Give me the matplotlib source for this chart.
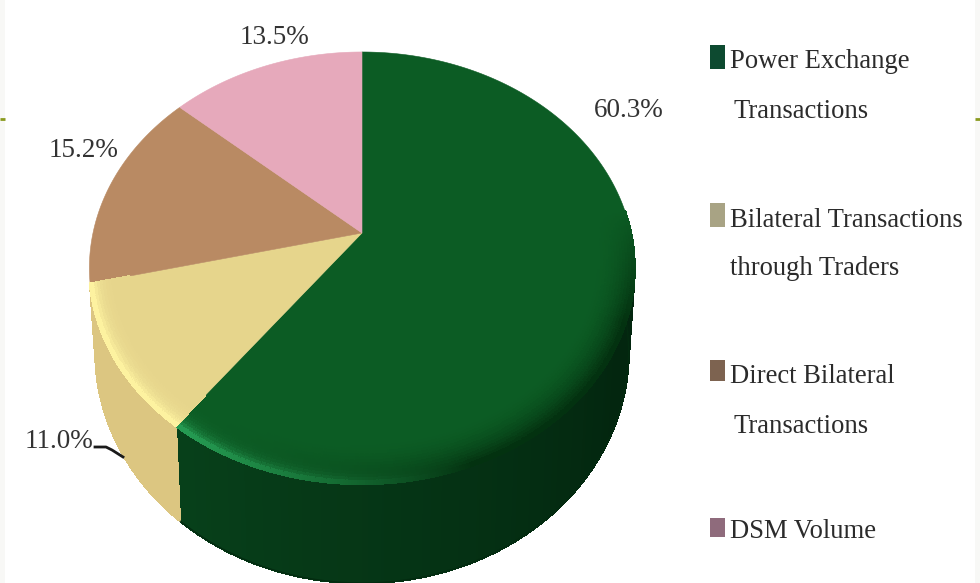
import matplotlib
matplotlib.use('Agg')
import matplotlib.pyplot as plt
from matplotlib.collections import PolyCollection
from matplotlib.colors import to_rgb
from matplotlib.patches import Rectangle
import numpy as np

categories = ['Power Exchange\nTransactions', 'Bilateral Transactions\nthrough Traders',
              'Direct Bilateral\nTransactions', 'DSM Volume']
shares = [60.3, 11.0, 15.2, 13.5]
share_labels = ['60.3%', '11.0%', '15.2%', '13.5%']
top_colors = ['#0c5c24', '#e6d58c', '#b98a63', '#e6a9bb']
bevel_colors = ['#259a52', '#fdf2a0', '#c99a72', '#efb9c9']
side_colors = ['#07401a', '#dcc681', '#a87c58', '#d696aa']
key_colors = ['#0d4a30', '#a8a384', '#7d6350', '#8f6b7c']

# tilted disc: perspective map of a unit circle, apex of the wedges at (cx, cy)
cx, cy = 362.0, 233.0
persp = 0.162
x_scale = 269.0
y_scale = -172.6


def rim(theta, r=1.0):
    u = r * np.sin(theta)
    v = r * np.cos(theta)
    w = 1 + persp * v
    return cx + x_scale * u / w, (y_scale * v + cy) / w


def floor(x, y):
    drop = 85 + (y - 283) * 0.07
    return cx + 0.978 * (x - cx), y + drop


def blend(a, b, t):
    a, b = np.array(to_rgb(a)), np.array(to_rgb(b))
    return tuple(a + (b - a) * t)


fig = plt.figure(figsize=(9.8, 5.83), dpi=100)
ax = fig.add_axes([0, 0, 1, 1])
ax.set_xlim(0, 980)
ax.set_ylim(583, 0)
ax.axis('off')

# pale slide margins and the little olive rule behind the chart
ax.add_patch(Rectangle((0, 0), 5, 583, color='#f8f8f6', lw=0))
ax.add_patch(Rectangle((975, 0), 5, 583, color='#f8f8f6', lw=0))
ax.plot([0, 5], [119, 119], color='#8a9a1e', lw=2, solid_capstyle='butt')
ax.plot([975, 980], [119, 119], color='#8a9a1e', lw=2, solid_capstyle='butt')

edges = np.radians(np.cumsum([0] + shares) * 3.6)
wall_from = np.radians(84)
wall_to = np.radians(256.6)

# side wall, only the front part of the disc shows it
quads, quad_colors = [], []
for i in range(len(shares)):
    start = max(edges[i], wall_from)
    stop = min(edges[i + 1], wall_to)
    if stop <= start:
        continue
    ts = np.linspace(start, stop, int(np.degrees(stop - start)) * 2 + 2)
    for t0, t1 in zip(ts[:-1], ts[1:]):
        x0, y0 = rim(t0)
        x1, y1 = rim(t1)
        bx0, by0 = floor(x0, y0)
        bx1, by1 = floor(x1, y1)
        quads.append([(x0, y0), (x1, y1), (bx1, by1), (bx0, by0)])
        mid = np.degrees((t0 + t1) / 2)
        if i == 0:
            # green wall darkens towards the right hand side
            col = blend('#03260f', side_colors[0], np.clip((mid - 120) / 95, 0, 1))
        else:
            col = to_rgb(side_colors[i])
        quad_colors.append(col)
ax.add_collection(PolyCollection(quads, facecolors=quad_colors, edgecolors=quad_colors,
                                 linewidths=1, antialiaseds=False))

# smooth the stepped outer edge of the wall, kept below the top face
for i in range(2):
    ts = np.linspace(max(edges[i], wall_from), min(edges[i + 1], wall_to), 300)
    bx, by = floor(*rim(ts))
    color = '#032b10' if i == 0 else side_colors[1]
    ax.plot(bx, by, color=color, lw=1.0, zorder=1)

# top face
for i in range(len(shares)):
    ts = np.linspace(edges[i], edges[i + 1], 200)
    xs, ys = rim(ts)
    ax.fill(np.r_[cx, xs], np.r_[cy, ys], color=top_colors[i], lw=0.4)

# soft ring along the front rim of the top face
ring, ring_colors = [], []
radii = np.r_[np.linspace(0.86, 0.98, 13), 0.99, 1.0]
for i in range(2):
    start = max(edges[i], wall_from)
    stop = min(edges[i + 1], wall_to)
    ts = np.linspace(start, stop, int(np.degrees(stop - start)) * 2 + 2)
    for t0, t1 in zip(ts[:-1], ts[1:]):
        mid = np.degrees((t0 + t1) / 2)
        for k, (r0, r1) in enumerate(zip(radii[:-1], radii[1:])):
            x0, y0 = rim(t0, r0)
            x1, y1 = rim(t1, r0)
            x2, y2 = rim(t1, r1)
            x3, y3 = rim(t0, r1)
            ring.append([(x0, y0), (x1, y1), (x2, y2), (x3, y3)])
            depth = (k + 1) / (len(radii) - 1)
            if i == 0:
                glow = np.clip((mid - 160) / 55, 0, 1)
                fade = np.clip((mid - 84) / 30, 0, 1)
                shade = blend(top_colors[0], '#03300f', depth ** 2 * 0.95 * fade * (1 - glow))
                ring_colors.append(blend(shade, bevel_colors[0], glow * depth ** 6))
            else:
                ring_colors.append(blend(top_colors[1], bevel_colors[1], depth ** 6))
ax.add_collection(PolyCollection(ring, facecolors=ring_colors, edgecolors=ring_colors,
                                 linewidths=1, antialiaseds=False))

# labels
serif = 'Liberation Serif'
label_pos = [(594, 117), (25, 448), (49, 157), (240, 44)]
for text, (lx, ly) in zip(share_labels, label_pos):
    ax.text(lx, ly, text, family=serif, fontsize=19.5, color='#333333', ha='left', va='baseline')
ax.plot([95, 106, 112, 123], [447, 447, 450, 457], color='#1a1a1a', lw=2)

# legend keys and names
key_boxes = [(710, 45, 15, 24), (710, 203, 15, 24), (710, 360, 15, 21), (710, 518, 15, 19)]
line_pos = [[(730, 68), (733, 118)], [(730, 227), (730, 275)], [(730, 383), (733, 433)], [(730, 538)]]
for name, color, box, rows in zip(categories, key_colors, key_boxes, line_pos):
    ax.add_patch(Rectangle(box[:2], box[2], box[3], color=color, lw=0))
    for row, (lx, ly) in zip(name.split('\n'), rows):
        ax.text(lx, ly, row, family=serif, fontsize=19.2, color='#2b2b2b', ha='left', va='baseline')

fig.savefig('out.png', dpi=100, facecolor='white')
